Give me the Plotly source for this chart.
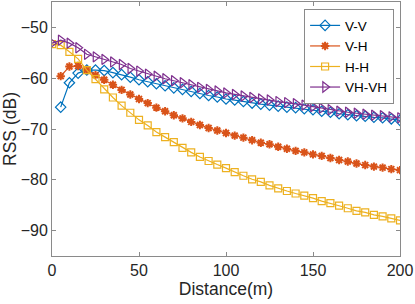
import plotly.graph_objects as go

dist_full = [0, 5, 10, 15, 20, 25, 30, 35, 40, 45, 50, 55, 60, 65, 70, 75, 80, 85, 90, 95, 100,
             105, 110, 115, 120, 125, 130, 135, 140, 145, 150, 155, 160, 165, 170, 175, 180, 185, 190, 195, 200]
dist_short = dist_full[1:]

vv = [-65.7, -60.9, -59.0, -58.4, -58.4, -58.5, -58.9, -59.3, -59.8, -60.3,
      -60.7, -61.1, -61.5, -61.9, -62.2, -62.6, -63.0, -63.4, -63.7, -64.1,
      -64.3, -64.6, -64.9, -65.1, -65.3, -65.5, -65.7, -65.8, -66.0, -66.2,
      -66.5, -66.7, -67.0, -67.2, -67.4, -67.5, -67.7, -67.8, -68.0, -68.3]
vh = [-59.6, -57.7, -57.6, -58.4, -59.4, -60.3, -61.3, -62.3, -63.2, -64.1,
      -64.9, -65.8, -66.5, -67.3, -67.9, -68.6, -69.2, -69.8, -70.3, -70.8,
      -71.3, -71.7, -72.2, -72.7, -73.0, -73.5, -73.9, -74.3, -74.6, -75.0,
      -75.3, -75.7, -76.1, -76.4, -76.8, -77.1, -77.4, -77.6, -77.9, -78.1]
hh = [-53.3, -53.5, -54.8, -56.2, -58.4, -60.2, -62.2, -63.8, -65.4, -66.8, -68.2,
      -69.3, -70.6, -71.6, -72.6, -73.7, -74.6, -75.5, -76.3, -77.0, -77.7,
      -78.5, -79.2, -79.9, -80.4, -81.1, -81.7, -82.2, -82.7, -83.1, -83.6,
      -84.2, -84.6, -85.1, -85.6, -86.1, -86.4, -86.9, -87.2, -87.6, -88.0]
vhvh = [-53.1, -52.5, -53.1, -54.0, -55.3, -55.8, -56.3, -56.8, -57.3, -58.1, -58.6,
        -59.2, -59.6, -60.1, -60.5, -60.9, -61.3, -61.8, -62.2, -62.5, -62.9,
        -63.2, -63.5, -63.8, -64.1, -64.3, -64.6, -64.8, -65.0, -65.3, -65.6,
        -65.9, -66.2, -66.5, -66.7, -66.9, -67.1, -67.3, -67.4, -67.6, -67.8]

x_ticks = [0, 50, 100, 150, 200]
y_ticks = [-90, -80, -70, -60, -50]

FONT = "Liberation Sans, Arial, sans-serif"
fig = go.Figure()
fig.add_trace(go.Scatter(x=dist_short, y=vv, name="V-V", mode="lines+markers",
                         line=dict(color="#0072BD", width=1.2),
                         marker=dict(symbol="diamond-open", size=8, line=dict(width=1.2, color="#0072BD"))))
fig.add_trace(go.Scatter(x=dist_short, y=vh, name="V-H", mode="lines+markers",
                         line=dict(color="#D95319", width=1.2),
                         marker=dict(symbol="asterisk-open", size=7, line=dict(width=2, color="#D95319"))))
fig.add_trace(go.Scatter(x=dist_full, y=hh, name="H-H", mode="lines+markers",
                         line=dict(color="#EDB120", width=1.2),
                         marker=dict(symbol="square-open", size=7, line=dict(width=1.2, color="#EDB120"))))
fig.add_trace(go.Scatter(x=dist_full, y=vhvh, name="VH-VH", mode="lines+markers",
                         line=dict(color="#7E2F8E", width=1.2),
                         marker=dict(symbol="triangle-right-open", size=9, line=dict(width=1.2, color="#7E2F8E"))))

axis_common = dict(showline=True, linecolor="#8a8a8a", linewidth=1, mirror="ticks",
                   ticks="inside", ticklen=4, tickcolor="#8a8a8a", showgrid=False, zeroline=False,
                   tickfont=dict(family=FONT, size=16, color="#262626"))
fig.update_xaxes(range=[0, 200], tickvals=x_ticks,
                 title=dict(text="Distance(m)", font=dict(family=FONT, size=17.5, color="#262626"), standoff=4),
                 **axis_common)
fig.update_yaxes(range=[-95, -45], tickvals=y_ticks,
                 title=dict(text="RSS (dB)", font=dict(family=FONT, size=17.5, color="#262626"), standoff=6),
                 **axis_common)
fig.update_layout(
    width=415, height=304, margin=dict(l=52, r=15, t=2, b=48),
    paper_bgcolor="white", plot_bgcolor="white",
    legend=dict(x=0.983, y=0.972, xanchor="right", yanchor="top", bgcolor="white",
                bordercolor="#8a8a8a", borderwidth=1,
                font=dict(family=FONT, size=13.5, color="#000000"), itemwidth=30,
                tracegroupgap=0),
    showlegend=True,
)
fig.write_html("out.html", config={"displayModeBar": False},
               post_script="document.body.style.margin='0';document.body.style.overflow='hidden';")
